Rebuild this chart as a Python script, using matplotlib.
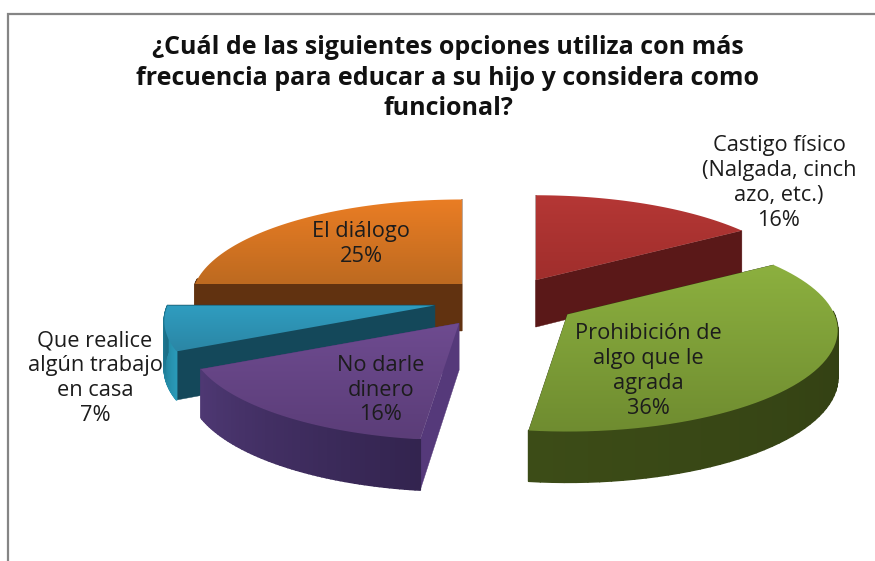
import numpy as np
import matplotlib
matplotlib.use('Agg')
import matplotlib.pyplot as plt
import matplotlib.patches as patches
from matplotlib.colors import to_rgb

title = '¿Cuál de las siguientes opciones utiliza con más\nfrecuencia para educar a su hijo y considera como\nfuncional?'
labels = ['Castigo físico\n(Nalgada, cinch\nazo, etc.)', 'Prohibición de\nalgo que le\nagrada', 'No darle\ndinero',
          'Que realice\nalgún trabajo\nen casa', 'El diálogo']
values = [16, 36, 16, 7, 25]

top_light = ['#b53735', '#8cb03f', '#6e4b90', '#2f9dc0', '#ea7d24']
top_dark = ['#a02e2c', '#6f8c30', '#5b3d78', '#2b86a5', '#bd6a20']
rim_start = ['#5e1a19', '#2e3a11', '#33244f', '#2a9ab8', '#613210']
rim_end = ['#4e1514', '#3c4c17', '#4e3873', '#1a6f88', '#613210']
wall_cols = ['#5a1818', '#2f3b12', '#55397a', '#14485a', '#613210']
label_xy = [(779, 183), (648, 371), (381, 390), (95, 378), (361, 244)]
nudge = [(3, 2), (10, 1), (-1, 3), (1, 0), (10, 2)]
draw_order = [0, 4, 3, 1, 2]

CX, CY = 500, 300
EX, EY = 68, 25
RX, RY = 267, 101
K = 0.16
DEPTH = 47


def project(apex, theta):
    X, Y = np.sin(theta), np.cos(theta)
    return apex[0] + RX * X * (1 - K * Y), apex[1] - RY * Y * (1 - K * Y), Y


def drop(Y):
    return DEPTH * (1 - .08 * Y)


def blend(c1, c2, t):
    return tuple((1 - t) * a + t * b for a, b in zip(to_rgb(c1), to_rgb(c2)))


fig = plt.figure(figsize=(8.75, 5.61), dpi=100)
ax = fig.add_axes([0, 0, 1, 1])
ax.set_xlim(0, 875)
ax.set_ylim(561, 0)
ax.axis('off')

ax.plot([875, 8, 8], [14, 14, 561], color='#858585', lw=1.6, solid_joinstyle='miter')

total = sum(values)
edges = np.cumsum([0] + values) / total * 2 * np.pi
z = 2
for i in draw_order:
    t0, t1 = edges[i], edges[i + 1]
    mid = (t0 + t1) / 2
    apex = (CX + EX * np.sin(mid) + nudge[i][0], CY - EY * np.cos(mid) + nudge[i][1])
    ts = np.linspace(t0, t1, 60)
    xs, ys, Ys = project(apex, ts)

    # radial walls
    for t in (t0, t1):
        x, y, Y = project(apex, t)
        xy = [apex, (x, y), (x, y + drop(Y)), (apex[0], apex[1] + DEPTH)]
        ax.add_patch(patches.Polygon(xy, facecolor=wall_cols[i], edgecolor=wall_cols[i], lw=.3, zorder=z))
    z += 1

    # outer rim, only the part facing the viewer
    for j in range(len(ts) - 1):
        if Ys[j] > .05:
            continue
        c = blend(rim_start[i], rim_end[i], j / (len(ts) - 2))
        xy = [(xs[j], ys[j]), (xs[j + 1], ys[j + 1]),
              (xs[j + 1], ys[j + 1] + drop(Ys[j + 1])), (xs[j], ys[j] + drop(Ys[j]))]
        ax.add_patch(patches.Polygon(xy, facecolor=c, edgecolor=c, lw=1.2, joinstyle='round', zorder=z))
    z += 1

    # top face with vertical gradient
    outline = np.vstack([[apex], np.column_stack([xs, ys])])
    y0, y1 = outline[:, 1].min(), outline[:, 1].max()
    x0, x1 = outline[:, 0].min(), outline[:, 0].max()
    grad = np.array([blend(top_light[i], top_dark[i], f) for f in np.linspace(0, 1, 128)])[:, None, :]
    im = ax.imshow(grad, extent=(x0, x1, y1, y0), aspect='auto', zorder=z, interpolation='bilinear')
    face = patches.Polygon(outline, transform=ax.transData, facecolor='none', edgecolor='none')
    ax.add_patch(face)
    im.set_clip_path(face)
    z += 1

ax.set_xlim(0, 875)
ax.set_ylim(561, 0)

ax.text(448, 78, title, ha='center', va='center', family='Open Sans', fontweight='bold', fontsize=18,
        color='#111111', linespacing=1.27, zorder=z)
for lab, v, (x, y) in zip(labels, values, label_xy):
    ax.text(x, y, f'{lab}\n{v}%', ha='center', va='center', family='Open Sans', fontsize=15.7,
            color='#1c1c1c', linespacing=1.24, zorder=z)

fig.savefig('out.png', dpi=100)
plt.close()
